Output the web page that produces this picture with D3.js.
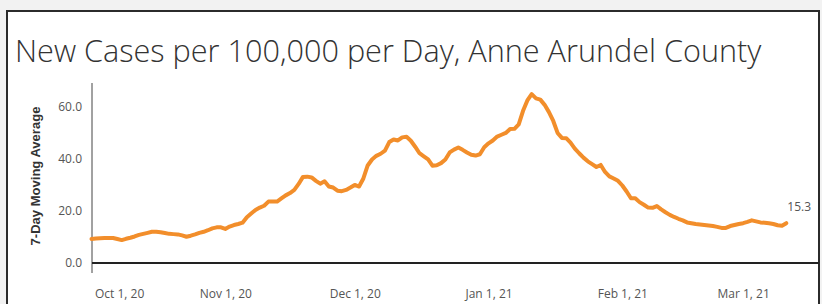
<!DOCTYPE html>
<html>
<head>
<meta charset="utf-8">
<script src="https://cdn.jsdelivr.net/npm/d3@7"></script>
<style>
  html, body { margin: 0; padding: 0; background: #f2f2f2; }
  svg { display: block; }
</style>
</head>
<body>
<script>
// 7-day moving average, new cases per 100k, one value per day from Oct 1, 2020
const firstDay = new Date(Date.UTC(2020, 9, 1));
const caseRate = [
  9.2, 9.4, 9.5, 9.6, 9.6, 9.6, 9.2, 8.8, 9.3, 9.7,
  10.2, 10.8, 11.2, 11.6, 12.0, 12.0, 11.8, 11.5, 11.2, 11.1,
  11.0, 10.6, 10.1, 10.5, 11.0, 11.6, 12.0, 12.6, 13.3, 13.7,
  13.7, 13.1, 14.0, 14.6, 15.0, 15.5, 17.6, 19.0, 20.4, 21.3,
  22.0, 23.6, 23.6, 23.6, 24.8, 26.0, 26.9, 28.1, 30.4, 33.1,
  33.2, 32.9, 31.6, 30.5, 31.4, 29.4, 29.0, 27.8, 27.6, 28.1,
  29.0, 30.0, 29.4, 32.5, 37.5, 39.8, 41.2, 42.0, 43.2, 46.5,
  47.5, 47.1, 48.3, 48.5, 47.0, 44.7, 42.2, 41.0, 39.8, 37.4,
  37.6, 38.4, 39.8, 42.5, 43.6, 44.4, 43.5, 42.5, 41.6, 41.3,
  41.8, 44.5, 46.0, 47.1, 48.6, 49.3, 50.0, 51.5, 51.6, 53.3,
  58.5, 62.5, 64.9, 63.3, 62.8, 60.8, 58.0, 54.6, 50.0, 48.1,
  48.0, 46.3, 44.0, 42.2, 40.5, 39.1, 38.0, 36.9, 37.7, 35.0,
  33.3, 32.5, 31.6, 29.8, 27.5, 24.9, 24.9, 23.4, 22.4, 21.3,
  21.2, 21.9, 20.6, 19.5, 18.5, 17.7, 17.0, 16.4, 15.6, 15.3,
  15.0, 14.8, 14.6, 14.4, 14.2, 13.9, 13.5, 13.5, 14.2, 14.6,
  15.0, 15.3, 15.8, 16.4, 16.0, 15.6, 15.5, 15.3, 15.0, 14.5,
  14.3, 15.3
];

const yTicks = [0, 20, 40, 60];
const xTickDates = [
  new Date(Date.UTC(2020, 9, 1)),
  new Date(Date.UTC(2020, 10, 1)),
  new Date(Date.UTC(2020, 11, 1)),
  new Date(Date.UTC(2021, 0, 1)),
  new Date(Date.UTC(2021, 1, 1)),
  new Date(Date.UTC(2021, 2, 1))
];
const xTickLabels = ["Oct 1, 20", "Nov 1, 20", "Dec 1, 20", "Jan 1, 21", "Feb 1, 21", "Mar 1, 21"];

const title = "New Cases per 100,000 per Day, Anne Arundel County";
const yTitle = "7-Day Moving Average";

const W = 822, H = 304;
const svg = d3.select("body").append("svg").attr("width", W).attr("height", H);

// card
svg.append("rect")
  .attr("x", 7).attr("y", 11)
  .attr("width", 812).attr("height", 320)
  .attr("fill", "#fff")
  .attr("stroke", "#2b2b2b")
  .attr("stroke-width", 2);

// title, fitted to the reference width
const t = svg.append("text")
  .attr("x", 15).attr("y", 62)
  .attr("font-family", "'Open Sans', sans-serif")
  .attr("font-weight", 300)
  .attr("font-size", 28)
  .attr("fill", "#333")
  .text(title);
let tw = t.node().getComputedTextLength();
t.attr("font-size", 28 * 747 / tw);

const data = caseRate.map((v, i) => ({ date: d3.utcDay.offset(firstDay, i), value: v }));

const x = d3.scaleUtc()
  .domain([firstDay, new Date(Date.UTC(2021, 2, 18))])
  .range([91.5, 816.5]);
const y = d3.scaleLinear().domain([0, 69.2]).range([263, 83]);

// y axis
const yAxis = svg.append("g")
  .attr("transform", "translate(92,0)")
  .call(d3.axisLeft(y).tickValues(yTicks).tickSize(0).tickPadding(10).tickFormat(d3.format(".1f")));
yAxis.select(".domain").remove();
yAxis.selectAll("text")
  .attr("font-family", "'Open Sans', sans-serif")
  .attr("font-size", 12)
  .attr("fill", "#555");
svg.append("line")
  .attr("x1", 92).attr("x2", 92)
  .attr("y1", y.range()[1]).attr("y2", 273)
  .attr("stroke", "#444").attr("stroke-width", 1);

// y title
const yt = svg.append("text")
  .attr("transform", "translate(40,176) rotate(-90)")
  .attr("text-anchor", "middle")
  .attr("font-family", "'Liberation Sans', Arial, sans-serif")
  .attr("font-weight", "bold")
  .attr("font-size", 12)
  .attr("fill", "#333")
  .text(yTitle);
yt.attr("font-size", 12 * 139 / yt.node().getComputedTextLength());

// x axis
const xAxis = svg.append("g")
  .attr("transform", `translate(0,${y(0)})`)
  .call(d3.axisBottom(x).tickValues(xTickDates).tickSize(0).tickPadding(26)
    .tickFormat((d, i) => xTickLabels[i]));
xAxis.select(".domain").remove();
xAxis.selectAll("text")
  .attr("font-family", "'Open Sans', sans-serif")
  .attr("font-size", 12)
  .attr("fill", "#555");
xAxis.select(".tick text").attr("text-anchor", "start").attr("dx", 3);
svg.append("line")
  .attr("x1", 92).attr("x2", 819)
  .attr("y1", y(0)).attr("y2", y(0))
  .attr("stroke", "#222").attr("stroke-width", 2);

// line
svg.append("path")
  .datum(data)
  .attr("fill", "none")
  .attr("stroke", "#f28e2b")
  .attr("stroke-width", 4)
  .attr("stroke-linejoin", "round")
  .attr("stroke-linecap", "round")
  .attr("d", d3.line().x(d => x(d.date)).y(d => y(d.value)));

// end label
const last = data[data.length - 1];
svg.append("text")
  .attr("x", x(last.date) + 1)
  .attr("y", y(last.value) - 12)
  .attr("font-family", "'Open Sans', sans-serif")
  .attr("font-size", 12)
  .attr("fill", "#555")
  .text(d3.format(".1f")(last.value));
</script>
</body>
</html>
